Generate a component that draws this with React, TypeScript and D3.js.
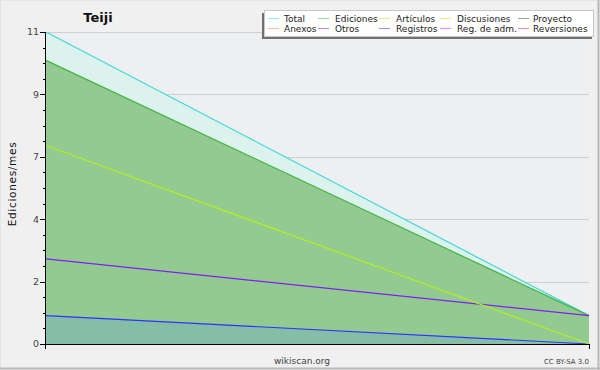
import React from "react";
import * as d3 from "d3";

const W = 600;
const H = 370;

const legendNames = ["Total", "Ediciones", "Artículos", "Discusiones", "Proyecto", "Anexos", "Otros", "Registros", "Reg. de adm.", "Reversiones"];
const legendColors = ["#40d8d8", "#44b444", "#b4f020", "#ffd020", "#505050", "#ff8040", "#8020f0", "#3c3cff", "#e040ff", "#ff3030"];

const periods = [0, 1];
const totalValues = [11, 1];
const edicionesValues = [10, 1];
const articulosValues = [7, 0];
const otrosValues = [3, 1];
const registrosValues = [1, 0];

const yTickValues = [0, 2.2, 4.4, 6.6, 8.8, 11];
const yTickLabels = ["0", "2", "4", "7", "9", "11"];

const series = [
  { name: "Total", values: totalValues, stroke: "#40d8d8", fill: "#dcf2ec", fillOpacity: 1 },
  { name: "Ediciones", values: edicionesValues, stroke: "#44b444", fill: "#92ca92", fillOpacity: 1 },
  { name: "Registros", values: registrosValues, stroke: "#3030ff", fill: "#7ab4b8", fillOpacity: 0.55 },
  { name: "Otros", values: otrosValues, stroke: "#8020f0", fill: null, fillOpacity: 0 },
  { name: "Artículos", values: articulosValues, stroke: "#b4f020", fill: null, fillOpacity: 0 },
];

export default function App() {
  const left = 46, right = 589, top = 32, bottom = 344;
  const x = d3.scaleLinear().domain([0, 1]).range([left, right]);
  const y = d3.scaleLinear().domain([0, 11]).range([bottom, top]);
  const line = d3.line<number>().x((_, i) => x(periods[i])).y((d) => y(d));
  const area = d3.area<number>().x((_, i) => x(periods[i])).y0(y(0)).y1((d) => y(d));
  const minorTicks = d3.range(0, 21).map((i) => (i * 11) / 20);
  const font = "DejaVu Sans, sans-serif";

  return (
    <div style={{ position: "fixed", left: 0, top: 0 }}>
      <svg width={W} height={H} style={{ display: "block" }} fontFamily={font}>
        <rect x={0} y={0} width={W} height={H} fill="#f0f0f0" />
        <rect x={0.5} y={0.5} width={W - 2} height={H - 2} fill="none" stroke="#e4e4e4" />
        <line x1={W - 1.5} y1={0} x2={W - 1.5} y2={H} stroke="#b8b8b8" strokeWidth={2} />
        <line x1={0} y1={H - 1.5} x2={W} y2={H - 1.5} stroke="#b8b8b8" strokeWidth={2} />
        <rect x={left} y={top} width={right - left} height={bottom - top} fill="#eeeff1" />
        {yTickValues.slice(1).map((t, i) => (
          <line key={"g" + i} x1={left} x2={right} y1={Math.round(y(t)) + 0.5} y2={Math.round(y(t)) + 0.5} stroke="#cfcfcf" />
        ))}
        {series.filter((s) => s.fill).map((s) => (
          <path key={"a" + s.name} d={area(s.values) || ""} fill={s.fill as string} fillOpacity={s.fillOpacity} />
        ))}
        {series.map((s) => (
          <path key={"l" + s.name} d={line(s.values) || ""} fill="none" stroke={s.stroke} strokeWidth={1.2} />
        ))}
        {/* axes */}
        <line x1={left - 0.5} x2={left - 0.5} y1={top} y2={bottom + 5} stroke="#000" />
        <line x1={left - 5} x2={right + 0.5} y1={bottom + 0.5} y2={bottom + 0.5} stroke="#000" />
        <line x1={right + 0.5} x2={right + 0.5} y1={bottom} y2={bottom + 5} stroke="#000" />
        {minorTicks.map((t, i) => (
          <line key={"m" + i} x1={left - 3} x2={left} y1={Math.round(y(t)) + 0.5} y2={Math.round(y(t)) + 0.5} stroke="#000" />
        ))}
        {yTickValues.map((t, i) => (
          <g key={"t" + i}>
            <line x1={left - 6} x2={left} y1={Math.round(y(t)) + 0.5} y2={Math.round(y(t)) + 0.5} stroke="#000" />
            <text x={left - 7} y={y(t)} dy="0.35em" textAnchor="end" fontSize={9.5} fill="#444">{yTickLabels[i]}</text>
          </g>
        ))}
        <text x={12} y={184} transform="rotate(-90 12 184)" textAnchor="middle" dy="0.35em" fontSize={10.5} letterSpacing={0.7} fill="#111">Ediciones/mes</text>
        <text x={98} y={22} textAnchor="middle" fontSize={13} fontWeight="bold" fill="#111">Teiji</text>
        <text x={302} y={364} textAnchor="middle" fontSize={9} fill="#444">wikiscan.org</text>
        <text x={589} y={364} textAnchor="end" fontSize={7} fill="#444">CC BY-SA 3.0</text>
        {/* legend */}
        <rect x={262} y={13} width={330} height={26} fill="#707070" />
        <rect x={264.5} y={10.5} width={329} height={26} fill="#ffffff" stroke="#c8c8c8" />
        {legendNames.map((n, i) => {
          const col = i % 5;
          const row = Math.floor(i / 5);
          const xs = [268, 318, 379, 440, 518][col];
          const tx = [284, 335, 396, 457, 533][col];
          const yy = 18.5 + row * 10;
          return (
            <g key={"lg" + i}>
              <line x1={xs} x2={xs + 11} y1={yy} y2={yy} stroke={legendColors[i]} strokeWidth={1} opacity={0.55} />
              <text x={tx} y={yy} dy="0.35em" fontSize={9} fill="#222">{n}</text>
            </g>
          );
        })}
      </svg>
    </div>
  );
}
